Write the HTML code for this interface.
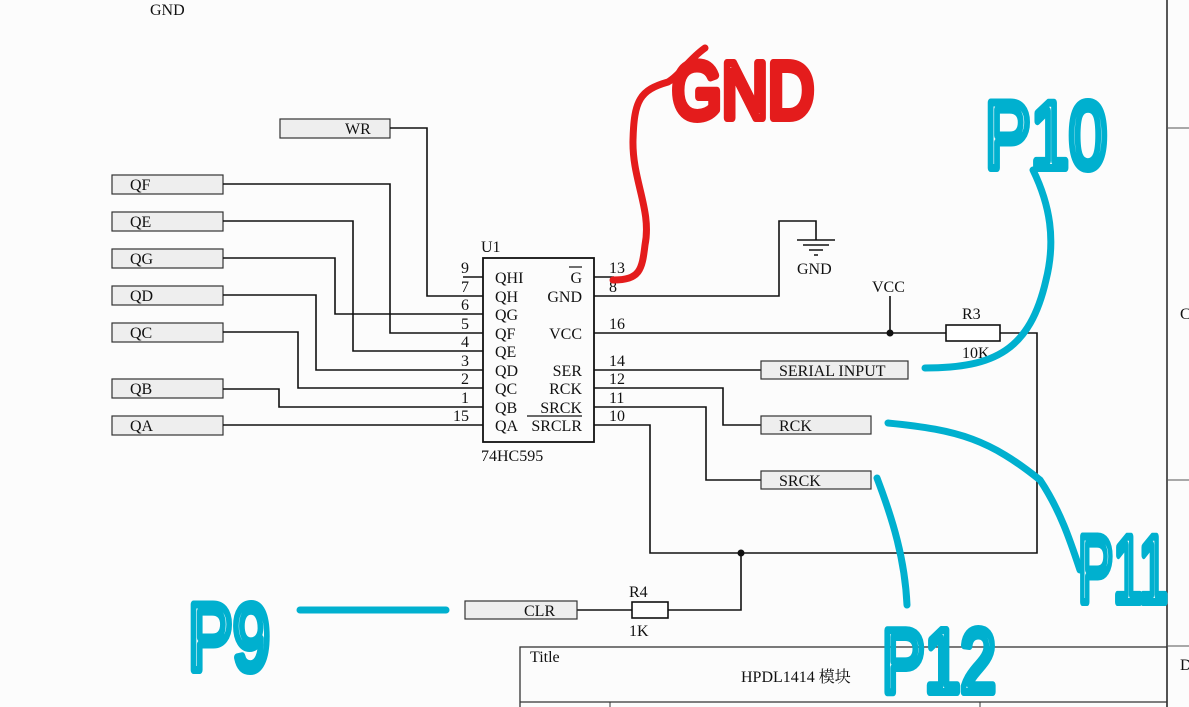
<!DOCTYPE html>
<html><head><meta charset="utf-8"><style>
html,body{margin:0;padding:0;background:#fcfcfc;}
svg{display:block;}
.t{font-family:"Liberation Serif","Noto Serif CJK SC",serif;font-size:16px;fill:#111;}
.w{stroke:#111;stroke-width:1.6;fill:none;}
.b{fill:#eeeeee;stroke:#333;stroke-width:1.2;}
.hw{font-family:"Liberation Sans",sans-serif;font-weight:normal;fill:none;stroke-linejoin:round;stroke-linecap:round;}
</style></head><body>
<svg width="1189" height="707" viewBox="0 0 1189 707" xmlns="http://www.w3.org/2000/svg">
<rect width="1189" height="707" fill="#fcfcfc"/>
<text class="t" x="150" y="15">GND</text>
<line x1="1167" y1="0" x2="1167" y2="707" stroke="#222" stroke-width="1.5"/>
<line x1="1167" y1="128" x2="1189" y2="128" stroke="#555"/>
<line x1="1167" y1="480" x2="1189" y2="480" stroke="#555"/>
<line x1="1167" y1="646" x2="1189" y2="646" stroke="#555"/>
<text class="t" x="1180" y="319">C</text>
<text class="t" x="1180" y="670">D</text>
<rect class="b" x="280" y="119" width="110" height="19"/><text class="t" x="345" y="134">WR</text>
<rect class="b" x="112" y="175" width="111" height="19"/><text class="t" x="130" y="190">QF</text>
<rect class="b" x="112" y="212" width="111" height="19"/><text class="t" x="130" y="227">QE</text>
<rect class="b" x="112" y="249" width="111" height="19"/><text class="t" x="130" y="264">QG</text>
<rect class="b" x="112" y="286" width="111" height="19"/><text class="t" x="130" y="301">QD</text>
<rect class="b" x="112" y="323" width="111" height="19"/><text class="t" x="130" y="338">QC</text>
<rect class="b" x="112" y="379" width="111" height="19"/><text class="t" x="130" y="394">QB</text>
<rect class="b" x="112" y="416" width="111" height="19"/><text class="t" x="130" y="431">QA</text>
<polyline class="w" points="390,128 427,128 427,296 483,296"/>
<polyline class="w" points="223,184 390,184 390,333 483,333"/>
<polyline class="w" points="223,221 353,221 353,351 483,351"/>
<polyline class="w" points="223,258 335,258 335,314 483,314"/>
<polyline class="w" points="223,295 316,295 316,370 483,370"/>
<polyline class="w" points="223,332 298,332 298,388 483,388"/>
<polyline class="w" points="223,389 279,389 279,407 483,407"/>
<polyline class="w" points="223,425 483,425"/>
<line class="w" x1="463" y1="277" x2="483" y2="277"/>
<rect x="483" y="258" width="111" height="184" fill="none" stroke="#111" stroke-width="1.8"/>
<text class="t" x="481" y="252">U1</text>
<text class="t" x="481" y="461">74HC595</text>
<g class="t" text-anchor="end">
<text x="469" y="273">9</text><text x="469" y="292">7</text><text x="469" y="310">6</text>
<text x="469" y="329">5</text><text x="469" y="347">4</text><text x="469" y="366">3</text>
<text x="469" y="384">2</text><text x="469" y="403">1</text><text x="469" y="421">15</text>
</g>
<g class="t">
<text x="495" y="283">QHI</text><text x="495" y="302">QH</text><text x="495" y="320">QG</text>
<text x="495" y="339">QF</text><text x="495" y="357">QE</text><text x="495" y="376">QD</text>
<text x="495" y="394">QC</text><text x="495" y="413">QB</text><text x="495" y="431">QA</text>
</g>
<g class="t" text-anchor="end">
<text x="582" y="283">G</text><text x="582" y="302">GND</text><text x="582" y="339">VCC</text>
<text x="582" y="376">SER</text><text x="582" y="394">RCK</text><text x="582" y="413">SRCK</text>
<text x="582" y="431">SRCLR</text>
</g>
<line x1="569" y1="267" x2="582" y2="267" stroke="#111" stroke-width="1.2"/>
<line x1="527" y1="416" x2="582" y2="416" stroke="#111" stroke-width="1.2"/>
<g class="t">
<text x="609" y="273">13</text><text x="609" y="292">8</text><text x="609" y="329">16</text>
<text x="609" y="366">14</text><text x="609" y="384">12</text><text x="609" y="403">11</text>
<text x="609" y="421">10</text>
</g>
<line class="w" x1="594" y1="277" x2="614" y2="277"/>
<polyline class="w" points="594,296 779,296 779,221 816,221 816,240"/>
<line x1="797" y1="240" x2="835" y2="240" stroke="#111" stroke-width="1.5"/>
<line x1="803" y1="245" x2="829" y2="245" stroke="#111" stroke-width="1.5"/>
<line x1="809" y1="250" x2="823" y2="250" stroke="#111" stroke-width="1.5"/>
<line x1="814" y1="255" x2="818" y2="255" stroke="#111" stroke-width="1.5"/>
<text class="t" x="797" y="274">GND</text>
<polyline class="w" points="594,333 946,333"/>
<line class="w" x1="890" y1="296" x2="890" y2="333"/>
<circle cx="890" cy="333" r="3.5" fill="#111"/>
<text class="t" x="872" y="292">VCC</text>
<rect x="946" y="325" width="54" height="16" fill="#fff" stroke="#111" stroke-width="1.6"/>
<text class="t" x="962" y="319">R3</text>
<text class="t" x="962" y="358">10K</text>
<polyline class="w" points="1000,333 1037,333 1037,553 650,553 650,425 594,425"/>
<line class="w" x1="594" y1="370" x2="761" y2="370"/>
<rect class="b" x="761" y="361" width="147" height="18"/><text class="t" x="779" y="376">SERIAL INPUT</text>
<polyline class="w" points="594,388 723,388 723,425 761,425"/>
<rect class="b" x="761" y="416" width="110" height="18"/><text class="t" x="779" y="431">RCK</text>
<polyline class="w" points="594,407 706,407 706,480 761,480"/>
<rect class="b" x="761" y="471" width="110" height="18"/><text class="t" x="779" y="486">SRCK</text>
<circle cx="741" cy="553" r="3.5" fill="#111"/>
<polyline class="w" points="741,553 741,610 668,610"/>
<rect x="632" y="602" width="36" height="16" fill="#fff" stroke="#111" stroke-width="1.6"/>
<text class="t" x="629" y="597">R4</text>
<text class="t" x="629" y="636">1K</text>
<line class="w" x1="577" y1="610" x2="632" y2="610"/>
<rect class="b" x="465" y="601" width="112" height="18"/><text class="t" x="524" y="616">CLR</text>
<rect x="520" y="647" width="647" height="70" fill="none" stroke="#333" stroke-width="1.3"/>
<line x1="520" y1="702" x2="1167" y2="702" stroke="#333" stroke-width="1.3"/>
<line x1="610" y1="702" x2="610" y2="707" stroke="#333"/>
<line x1="980" y1="702" x2="980" y2="707" stroke="#333"/>
<text class="t" x="530" y="662">Title</text>
<text class="t" x="741" y="682">HPDL1414 模块</text>
<path d="M613,280 C640,280 642,270 645,245 C652,210 632,180 633,140 C634,100 640,90 668,82 C680,75 688,60 705,48" fill="none" stroke="#e41c1c" stroke-width="7" stroke-linecap="round"/>
<text class="hw" x="672" y="118" font-size="80" stroke="#e41c1c" stroke-width="8" textLength="142" lengthAdjust="spacingAndGlyphs">GND</text>
<g fill="none" stroke="#00b0cf" stroke-width="7" stroke-linecap="round">
<path d="M1033,170 C1050,205 1056,240 1046,280 C1030,350 995,368 925,368"/>
<path d="M888,423 C960,430 990,440 1040,480 C1060,510 1070,540 1080,570"/>
<path d="M877,478 C893,520 905,560 907,605"/>
<path d="M300,610 L446,610"/>
</g>
<g class="hw" stroke="#00b0cf" stroke-width="8">
<text x="985" y="168" font-size="95" textLength="122" lengthAdjust="spacingAndGlyphs">P10</text>
<text x="1078" y="602" font-size="95" textLength="90" lengthAdjust="spacingAndGlyphs">P11</text>
<text x="882" y="692" font-size="90" textLength="114" lengthAdjust="spacingAndGlyphs">P12</text>
<text x="188" y="670" font-size="95" textLength="82" lengthAdjust="spacingAndGlyphs">P9</text>
</g>
</svg>
</body></html>
